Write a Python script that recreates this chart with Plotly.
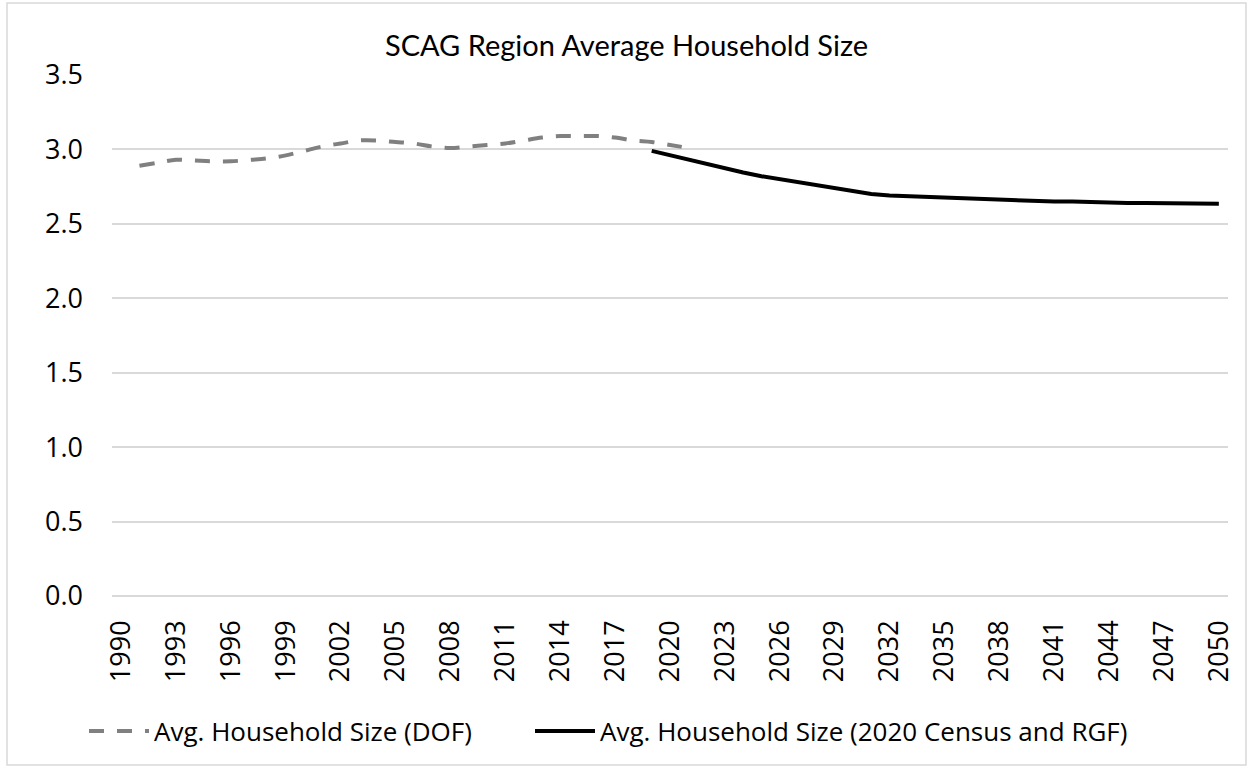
import plotly.graph_objects as go

# Data
dof_years = list(range(1991, 2022))
dof_values = [2.89, 2.91, 2.93, 2.925, 2.92, 2.92, 2.93, 2.94, 2.96, 2.99,
              3.02, 3.04, 3.06, 3.06, 3.05, 3.04, 3.02, 3.01, 3.02, 3.03,
              3.04, 3.06, 3.08, 3.09, 3.09, 3.09, 3.08, 3.06, 3.05, 3.03, 3.01]

rgf_years = list(range(2019, 2051))
rgf_values = [2.99, 2.96, 2.93, 2.90, 2.87, 2.845, 2.82, 2.80, 2.78, 2.76,
              2.74, 2.72, 2.70, 2.69, 2.685, 2.68, 2.675, 2.67, 2.665, 2.66,
              2.66, 2.655, 2.65, 2.65, 2.645, 2.645, 2.64, 2.64, 2.64, 2.635,
              2.635, 2.635]

tick_years = list(range(1990, 2051, 3))
y_ticks = [0.0, 0.5, 1.0, 1.5, 2.0, 2.5, 3.0, 3.5]

title_text = "SCAG Region Average Household Size"
dof_name = "Avg. Household Size (DOF)"
rgf_name = "Avg. Household Size (2020 Census and RGF)"

W, H = 1253, 769
ML, MR, MT, MB = 112, 25, 75, 173

fig = go.Figure()
fig.add_trace(go.Scatter(
    x=dof_years, y=dof_values, mode="lines", name=dof_name, legend="legend",
    line=dict(color="#808080", width=4, dash="15px,13px", shape="spline"),
))
fig.add_trace(go.Scatter(
    x=rgf_years, y=rgf_values, mode="lines", name=rgf_name, legend="legend2",
    line=dict(color="#000000", width=4),
))

pw = W - ML - MR
ph = H - MT - MB
def px_x(p):
    return (p - ML) / pw
def px_y(p):
    return (H - MB - p) / ph

fig.add_shape(type="rect", xref="paper", yref="paper",
              x0=px_x(7), x1=px_x(1246), y0=px_y(765), y1=px_y(3),
              line=dict(color="#d9d9d9", width=1.5), fillcolor="rgba(0,0,0,0)",
              layer="below")

legend_common = dict(orientation="h", xanchor="left", y=px_y(731), yanchor="middle",
                     font=dict(size=26), itemwidth=60, bgcolor="rgba(0,0,0,0)")

fig.update_layout(
    width=W, height=H,
    margin=dict(l=ML, r=MR, t=MT, b=MB),
    paper_bgcolor="white", plot_bgcolor="white",
    title=dict(text=title_text, x=0.5, xanchor="center", y=1 - 46 / H, yanchor="middle",
               font=dict(family="Lato, sans-serif", size=29, color="#000000")),
    font=dict(family="Open Sans, DejaVu Sans, sans-serif", size=26, color="#000000"),
    showlegend=True,
    legend=dict(x=px_x(84), **legend_common),
    legend2=dict(x=px_x(530), **legend_common),
    xaxis=dict(range=[1989.5, 2050.5], tickmode="array", tickvals=tick_years,
               ticktext=[str(y) for y in tick_years], tickangle=-90,
               showgrid=False, zeroline=False, showline=False, ticks="",
               ticklabelstandoff=18, tickfont=dict(size=27)),
    yaxis=dict(range=[0, 3.5], tickmode="array", tickvals=y_ticks,
               ticktext=[f"{v:.1f}" for v in y_ticks],
               showgrid=True, gridcolor="#d9d9d9", gridwidth=1.5,
               zeroline=True, zerolinecolor="#d9d9d9", zerolinewidth=1.5,
               showline=False, ticks="", ticklen=0, ticklabelstandoff=28,
               tickfont=dict(size=27)),
)

fig.write_html("out.html", config={"displayModeBar": False},
               post_script="document.body.style.margin='0px';")
